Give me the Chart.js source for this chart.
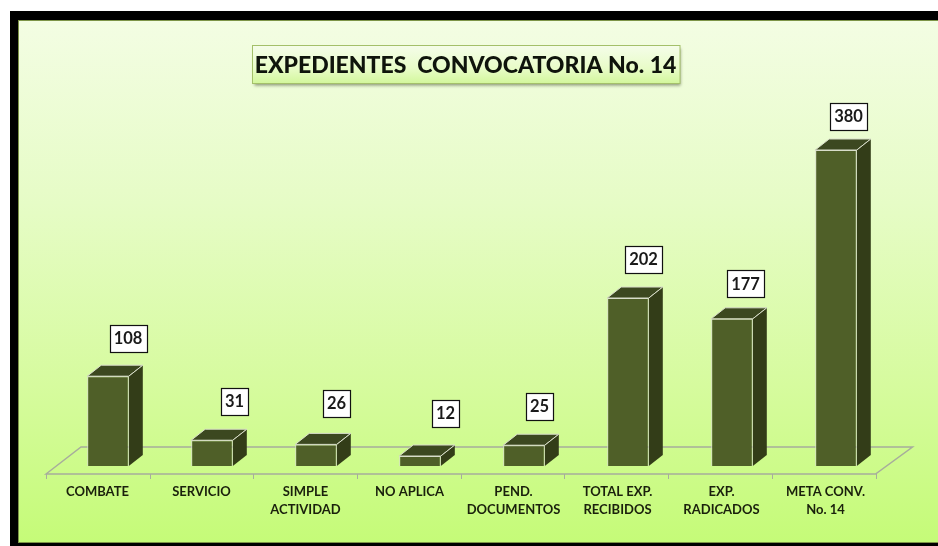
<!DOCTYPE html>
<html><head><meta charset="utf-8">
<style>
html,body{margin:0;padding:0;width:938px;height:546px;overflow:hidden;background:#fff}
#black{position:absolute;left:10px;top:11px;width:928px;height:535px;background:#000}
#panel{position:absolute;left:18px;top:20px;width:920px;height:523px;box-sizing:border-box;
border-left:1px solid #7d9447;border-top:1px solid #7d9447;border-bottom:1px solid #7d9447;
background:linear-gradient(to bottom,#f3fde3 0%,#e6fcc6 35%,#d6fb9e 70%,#c5fb78 100%)}
#wrap{position:absolute;left:0;top:0;width:938px;height:546px}
</style>
<script src="https://cdn.jsdelivr.net/npm/chart.js@4"></script>
</head><body>
<div id="black"></div><div id="panel"></div>
<div id="wrap"><canvas id="c" width="938" height="546"></canvas></div>
<script>
const categories = [["COMBATE"],["SERVICIO"],["SIMPLE","ACTIVIDAD"],["NO APLICA"],["PEND.","DOCUMENTOS"],["TOTAL EXP.","RECIBIDOS"],["EXP.","RADICADOS"],["META CONV.","No. 14"]];
const values = [108,31,26,12,25,202,177,380];
const titleText = "EXPEDIENTES  CONVOCATORIA No. 14";
const labelNudgeX = [20,22.5,20.5,25.5,15.5,15.5,13.5,12.5];
const labelNudgeY = [38,39,41,43,39,39,35,34];

const DX = 14, DY = 11;
const threeD = {
  id:'threeD',
  afterLayout(chart){
    chart.titleBlock.left -= 6.5; chart.titleBlock.right -= 6.5;
  },
  beforeDraw(chart){
    const ctx = chart.ctx;
    ctx.save();
    ctx.shadowColor='rgba(60,70,40,.55)'; ctx.shadowBlur=3; ctx.shadowOffsetX=1; ctx.shadowOffsetY=2;
    const g = ctx.createLinearGradient(0,45,0,84);
    g.addColorStop(0,'#f5fdea'); g.addColorStop(.6,'#e8fcc8'); g.addColorStop(1,'#d2f79a');
    ctx.fillStyle=g; ctx.fillRect(252.5,45.5,427.5,38);
    ctx.shadowColor='transparent';
    ctx.strokeStyle='#a4c06a'; ctx.lineWidth=1; ctx.strokeRect(252.5,45.5,427.5,38);
    ctx.restore();
  },
  beforeDatasetsDraw(chart){
    const ctx=chart.ctx, x=chart.scales.x, y=chart.scales.y;
    const L=x.left-10, R=x.right-12.5, F=y.bottom+8, B=F-27, BL=L+35, BR=R+37;
    ctx.save();
    ctx.strokeStyle='#a7ad9c'; ctx.lineWidth=1.5;
    ctx.beginPath();
    ctx.moveTo(L,F); ctx.lineTo(BL,B); ctx.lineTo(BR,B); ctx.lineTo(R,F); ctx.closePath(); ctx.stroke();
    ctx.lineWidth=1;
    const step=(R-L)/categories.length;
    for(let i=0;i<=categories.length;i++){
      const t=Math.round(L+i*step)+.5;
      ctx.beginPath(); ctx.moveTo(t,F); ctx.lineTo(t,F+5); ctx.stroke();
    }
    chart.getDatasetMeta(0).data.forEach(b=>{
      const l=b.x-b.width/2, r=b.x+b.width/2, t=b.y, bt=b.base;
      ctx.strokeStyle='#d8ddca'; ctx.lineWidth=1;
      ctx.fillStyle='#3c4820';
      ctx.beginPath(); ctx.moveTo(l,t); ctx.lineTo(l+DX,t-DY); ctx.lineTo(r+DX,t-DY); ctx.lineTo(r,t); ctx.closePath(); ctx.fill(); ctx.stroke();
      ctx.fillStyle='#333d18';
      ctx.beginPath(); ctx.moveTo(r,t); ctx.lineTo(r+DX,t-DY); ctx.lineTo(r+DX,bt-DY); ctx.lineTo(r,bt); ctx.closePath(); ctx.fill();
      ctx.beginPath(); ctx.moveTo(r,t); ctx.lineTo(r+DX,t-DY); ctx.stroke();
    });
    ctx.restore();
  },
  afterDatasetsDraw(chart){
    const ctx=chart.ctx;
    ctx.save();
    ctx.font='bold 16.5px Lato'; ctx.textAlign='center'; ctx.textBaseline='middle';
    chart.getDatasetMeta(0).data.forEach((b,i)=>{
      const cx=b.x+labelNudgeX[i], cy=b.y-labelNudgeY[i], s=String(values[i]);
      const w=Math.round(ctx.measureText(s).width)+8, h=27;
      const lx=Math.round(cx-w/2)+.5, ly=Math.round(cy-h/2)+.5;
      ctx.fillStyle='#fff'; ctx.strokeStyle='#111'; ctx.lineWidth=1.2;
      ctx.fillRect(lx,ly,w,h); ctx.strokeRect(lx,ly,w,h);
      ctx.fillStyle='#1a1a1a'; ctx.fillText(s,cx,cy+.5);
    });
    ctx.restore();
  }
};

new Chart(document.getElementById('c'),{
  type:'bar',
  data:{labels:categories,datasets:[{data:values,backgroundColor:'#4f5f28',borderColor:'#d8ddca',borderWidth:1,barPercentage:.4,categoryPercentage:1}]},
  plugins:[threeD],
  options:{
    responsive:false,animation:false,
    layout:{padding:{left:56,right:50,top:0,bottom:0}},
    plugins:{
      legend:{display:false},tooltip:{enabled:false},
      title:{display:true,text:titleText,color:'#0f140c',font:{family:'Lato',weight:'900',size:23,lineHeight:1.2},padding:{top:52,bottom:12.2}}
    },
    scales:{
      x:{grid:{display:false,drawTicks:false},border:{display:false},
         afterFit(s){s.height=80;},
         ticks:{padding:17,labelOffset:-10.5,maxRotation:0,autoSkip:false,color:'#1a200c',
                font:{family:'Lato',weight:'bold',size:13,lineHeight:1.38}}},
      y:{display:false,min:0,max:450}
    }
  }
});
</script>
</body></html>
